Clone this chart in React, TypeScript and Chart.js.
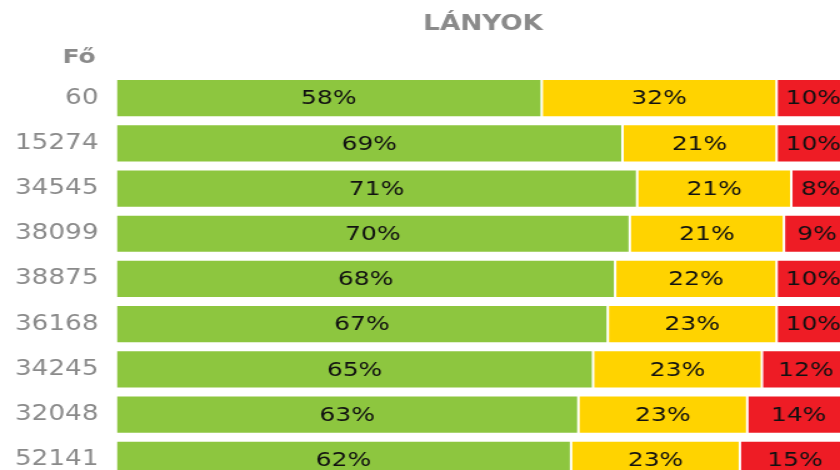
import React, { useEffect, useRef } from "react";
import { Chart, registerables } from "chart.js";

Chart.register(...registerables);

const categories = ["60", "15274", "34545", "38099", "38875", "36168", "34245", "32048", "52141"];
const greenValues = [58, 69, 71, 70, 68, 67, 65, 63, 62];
const yellowValues = [32, 21, 21, 21, 22, 23, 23, 23, 23];
const redValues = [10, 10, 8, 9, 10, 10, 12, 14, 15];
const titleText = "LÁNYOK";
const axisTitle = "Fő";

const FONT = '"DejaVu Sans", Verdana, sans-serif';
const STRETCH = 1.25;
const CW = 690;
const CH = 509;

export default function App() {
  const ref = useRef<HTMLCanvasElement | null>(null);

  useEffect(() => {
    const canvas = ref.current;
    if (!canvas) return;

    const labelPlugin = {
      id: "customText",
      afterDatasetsDraw(chart: any) {
        const ctx = chart.ctx;
        ctx.save();
        ctx.font = `20px ${FONT}`;
        ctx.fillStyle = "#111111";
        ctx.textAlign = "center";
        ctx.textBaseline = "middle";
        chart.data.datasets.forEach((ds: any, di: number) => {
          const meta = chart.getDatasetMeta(di);
          meta.data.forEach((el: any, i: number) => {
            const p = el.getProps(["x", "y", "base"], true);
            ctx.fillText(ds.data[i] + "%", (p.x + p.base) / 2, p.y + 1);
          });
        });
        ctx.restore();
      },
      afterDraw(chart: any) {
        const ctx = chart.ctx;
        const a = chart.chartArea;
        ctx.save();
        ctx.fillStyle = "#8a8a8a";
        ctx.textBaseline = "middle";
        ctx.textAlign = "center";
        ctx.font = `bold 21px ${FONT}`;
        ctx.fillText(titleText, (a.left + a.right) / 2, 25);
        ctx.textAlign = "right";
        ctx.font = `bold 20px ${FONT}`;
        ctx.fillText(axisTitle, 76.5, 57.5);
        ctx.restore();
      },
    };

    const chart = new Chart(canvas, {
      type: "bar",
      data: {
        labels: categories,
        datasets: [
          { data: greenValues, backgroundColor: "#8DC63F" },
          { data: yellowValues, backgroundColor: "#FFD300" },
          { data: redValues, backgroundColor: "#EE1C25" },
        ].map((d) => ({
          ...d,
          borderColor: "#ffffff",
          borderWidth: 1,
          borderSkipped: false,
          barPercentage: 1,
          categoryPercentage: 0.845,
        })),
      },
      options: {
        indexAxis: "y",
        responsive: false,
        animation: false,
        devicePixelRatio: 1,
        layout: { padding: { top: 75.5, right: 10, bottom: 0, left: 0 } },
        plugins: {
          legend: { display: false },
          title: { display: false },
          tooltip: { enabled: false },
        },
        scales: {
          x: { stacked: true, min: 0, max: 100, display: false },
          y: {
            stacked: true,
            grid: { display: false, drawTicks: false },
            border: { display: false },
            ticks: {
              padding: 14,
              color: "#8a8a8a",
              font: { family: FONT, size: 21 },
            },
            afterFit(scale: any) {
              scale.width = 92.8;
            },
          },
        },
      },
      plugins: [labelPlugin],
    });

    return () => chart.destroy();
  }, []);

  return (
    <div
      style={{
        position: "fixed",
        left: 0,
        top: 0,
        width: 840,
        height: 470,
        overflow: "hidden",
        background: "#ffffff",
      }}
    >
      <div
        style={{
          width: CW,
          height: CH,
          transform: `scaleX(${STRETCH})`,
          transformOrigin: "left top",
        }}
      >
        <canvas ref={ref} width={CW} height={CH} style={{ display: "block" }} />
      </div>
    </div>
  );
}
